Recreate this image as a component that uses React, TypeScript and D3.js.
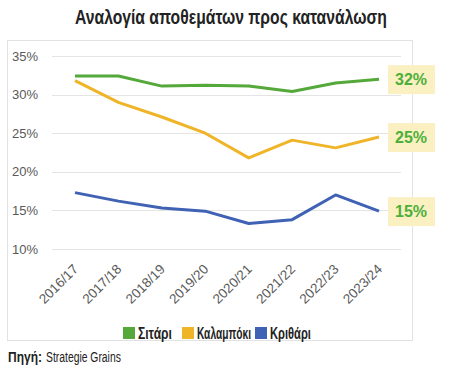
import React, { useEffect, useRef } from "react";
import * as d3 from "d3";

const seasons = ["2016/17", "2017/18", "2018/19", "2019/20", "2020/21", "2021/22", "2022/23", "2023/24"];
const wheat = [32.4, 32.4, 31.1, 31.2, 31.1, 30.4, 31.5, 32.0];
const corn = [31.8, 29.0, 27.1, 25.0, 21.8, 24.1, 23.1, 24.5];
const barley = [17.3, 16.2, 15.3, 14.9, 13.3, 13.8, 17.0, 14.9];
const yTicks = [10, 15, 20, 25, 30, 35];
const endLabels = ["32%", "25%", "15%"];

const seriesNames = ["Σιτάρι", "Καλαμπόκι", "Κριθάρι"];
const colors = ["#55a83a", "#f0b429", "#4062b4"];

const sans = "'Liberation Sans', 'DejaVu Sans', sans-serif";

// no condensed face installed: draw the text at (0,0) and squeeze it horizontally
function condensed(
  parent: d3.Selection<any, unknown, null, undefined>,
  text: string,
  x: number,
  y: number,
  target: number,
  size: number,
  bold: boolean
) {
  const t = parent
    .append("text")
    .attr("font-family", sans)
    .attr("font-weight", bold ? "bold" : "normal")
    .attr("font-size", size)
    .attr("fill", "#222")
    .text(text);
  const w = (t.node() as SVGTextElement).getComputedTextLength() || target;
  t.attr("transform", `translate(${x},${y}) scale(${target / w},1)`);
  return t;
}

const App = () => {
  const ref = useRef<SVGSVGElement>(null);

  useEffect(() => {
    const width = 449;
    const height = 371;
    const svg = d3.select(ref.current);
    svg.selectAll("*").remove();
    svg.attr("width", width).attr("height", height);

    // title
    condensed(svg as any, "Αναλογία αποθεμάτων προς κατανάλωση", 75, 24, 312, 21, true);

    // chart frame
    svg
      .append("rect")
      .attr("x", 7.5)
      .attr("y", 40.5)
      .attr("width", 405)
      .attr("height", 300)
      .attr("fill", "#fff")
      .attr("stroke", "#e2e2e2");

    const x = d3.scalePoint().domain(seasons).range([75, 379]);
    const y = d3.scaleLinear().domain([10, 35]).range([249, 56]);

    // grid + y labels
    const grid = svg.append("g");
    grid
      .selectAll("line")
      .data(yTicks)
      .join("line")
      .attr("x1", 52)
      .attr("x2", 401)
      .attr("y1", (d) => Math.round(y(d)) + 0.5)
      .attr("y2", (d) => Math.round(y(d)) + 0.5)
      .attr("stroke", "#e4e4e4");
    grid
      .selectAll("text")
      .data(yTicks)
      .join("text")
      .attr("x", 38)
      .attr("y", (d) => y(d) + 4.5)
      .attr("text-anchor", "end")
      .attr("font-family", sans)
      .attr("font-size", 13)
      .attr("fill", "#595959")
      .text((d) => d + "%");

    // x labels
    svg
      .append("g")
      .selectAll("text")
      .data(seasons)
      .join("text")
      .attr("transform", (d) => `translate(${x(d)! + 4},${270}) rotate(-45)`)
      .attr("text-anchor", "end")
      .attr("font-family", sans)
      .attr("font-size", 13.5)
      .attr("fill", "#595959")
      .text((d) => d);

    // lines
    const line = d3
      .line<number>()
      .x((_, i) => x(seasons[i])!)
      .y((d) => y(d));

    [wheat, corn, barley].forEach((s, i) => {
      svg
        .append("path")
        .datum(s)
        .attr("d", line)
        .attr("fill", "none")
        .attr("stroke", colors[i])
        .attr("stroke-width", 3)
        .attr("stroke-linejoin", "round");
    });

    // end value boxes
    const last = [wheat, corn, barley].map((s) => s[s.length - 1]);
    const boxes = svg.append("g");
    last.forEach((v, i) => {
      const cy = y(v);
      boxes
        .append("rect")
        .attr("x", 388)
        .attr("y", cy - 14)
        .attr("width", 47)
        .attr("height", 29)
        .attr("fill", "#fbf0c2");
      boxes
        .append("text")
        .attr("x", 411)
        .attr("y", cy + 6)
        .attr("text-anchor", "middle")
        .attr("font-family", sans)
        .attr("font-weight", "bold")
        .attr("font-size", 16)
        .attr("fill", "#4caf3a")
        .text(endLabels[i]);
    });

    // legend
    const legendX = [123, 182, 255];
    const legendW = [34, 54, 41];
    const legend = svg.append("g");
    seriesNames.forEach((name, i) => {
      legend
        .append("rect")
        .attr("x", legendX[i])
        .attr("y", 327)
        .attr("width", 12)
        .attr("height", 12)
        .attr("fill", colors[i]);
      condensed(legend as any, name, legendX[i] + 15, 339, legendW[i], 16, true);
    });

    // source
    condensed(svg as any, "Πηγή:", 8, 362, 34, 15, true);
    condensed(svg as any, "Strategie Grains", 46, 362, 75, 15, false);
  }, []);

  return (
    <div style={{ position: "absolute", left: 0, top: 0 }}>
      <svg ref={ref} style={{ display: "block" }} />
    </div>
  );
};

export default App;
